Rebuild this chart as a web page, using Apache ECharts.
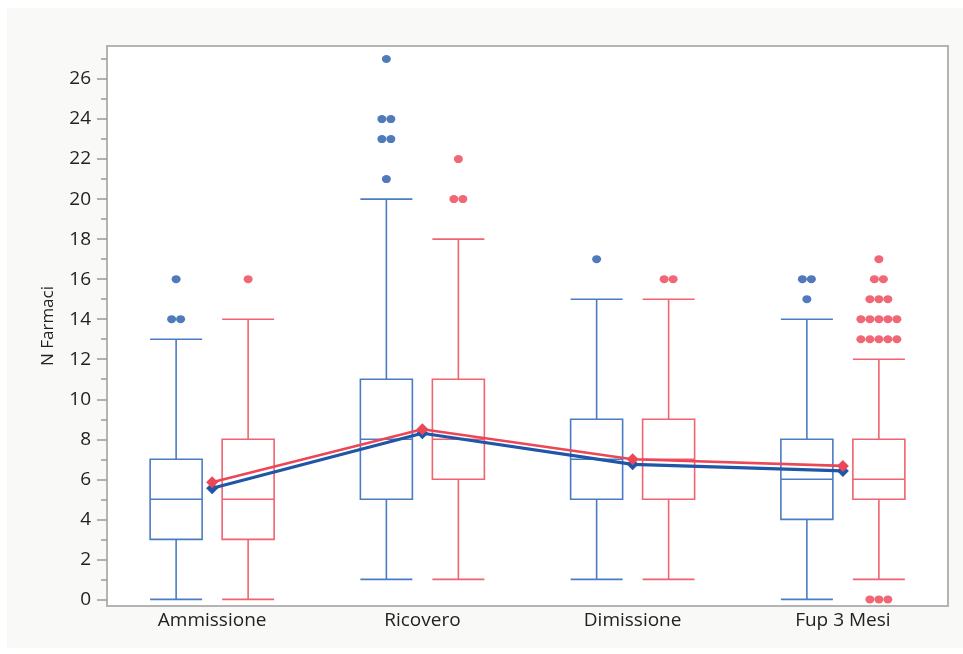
<!DOCTYPE html>
<html>
<head>
<meta charset="utf-8">
<script src="https://cdn.jsdelivr.net/npm/echarts@6/dist/echarts.min.js"></script>
<style>
  html, body { margin: 0; padding: 0; background: #fff; }
  #chart { width: 963px; height: 654px; }
</style>
</head>
<body>
<div id="chart"></div>
<script>
// Categories along the x axis
const categories = ['Ammissione', 'Ricovero', 'Dimissione', 'Fup 3 Mesi'];

// Box summaries per category: [lower whisker, Q1, median, Q3, upper whisker]
const blueBoxes = [[0, 3, 5, 7, 13], [1, 5, 8, 11, 20], [1, 5, 7, 9, 15], [0, 4, 6, 8, 14]];
const redBoxes  = [[0, 3, 5, 8, 14], [1, 6, 8, 11, 18], [1, 5, 7, 9, 15], [1, 5, 6, 8, 12]];

// Outlying observations per category
const blueOutliers = [[14, 14, 16], [21, 23, 23, 24, 24, 27], [17], [15, 16, 16]];
const redOutliers  = [[16], [20, 20, 22], [16, 16],
  [0, 0, 0, 13, 13, 13, 13, 13, 14, 14, 14, 14, 14, 15, 15, 15, 16, 16, 17]];

// Group means
const blueMeans = [5.55, 8.3, 6.75, 6.42];
const redMeans  = [5.85, 8.5, 7.0, 6.67];

// Y axis ticks
const yMajorTicks = [0, 2, 4, 6, 8, 10, 12, 14, 16, 18, 20, 22, 24, 26];
const yMinorTicks = [1, 3, 5, 7, 9, 11, 13, 15, 17, 19, 21, 23, 25, 27];

const BLUE_BOX = '#4a7cc3';
const RED_BOX = '#f0636f';
const BLUE_DOT = '#2559aa';
const RED_DOT = '#ec4253';
const BLUE_MEAN = '#1f56a6';
const RED_MEAN = '#ec4756';

const GRID = { left: 107, top: 46, right: 15, bottom: 48 };
const PLOT_W = 963 - GRID.left - GRID.right;
const UNIT_PER_PX = categories.length / PLOT_W;
const SHIFT = 36 * UNIT_PER_PX;      // box centre offset from category centre
const BOX_W = 52 * UNIT_PER_PX;      // box width
const DOT_STEP = 9 * UNIT_PER_PX;    // spacing of tied outliers

const Y_MIN = -0.33, Y_MAX = 27.65;

function boxRenderer(color) {
  return function (params, api) {
    const x = api.value(0);
    const half = api.size([BOX_W, 0])[0] / 2;
    const cx = api.coord([x, 0])[0];
    const yLo = api.coord([x, api.value(1)])[1];
    const yQ1 = api.coord([x, api.value(2)])[1];
    const yMed = api.coord([x, api.value(3)])[1];
    const yQ3 = api.coord([x, api.value(4)])[1];
    const yHi = api.coord([x, api.value(5)])[1];
    const st = () => ({ stroke: color, lineWidth: 1.6, fill: null });
    const line = (x1, y1, x2, y2) => ({ type: 'line', shape: { x1, y1, x2, y2 }, style: st() });
    return {
      type: 'group',
      children: [
        { type: 'rect', shape: { x: cx - half, y: yQ3, width: half * 2, height: yQ1 - yQ3 }, style: st() },
        line(cx - half, yMed, cx + half, yMed),
        line(cx, yQ3, cx, yHi),
        line(cx, yQ1, cx, yLo),
        line(cx - half, yHi, cx + half, yHi),
        line(cx - half, yLo, cx + half, yLo)
      ]
    };
  };
}

function boxData(boxes, shift) {
  return boxes.map((b, i) => [i + shift].concat(b));
}

function outlierPoints(groups, shift) {
  const pts = [];
  groups.forEach((vals, i) => {
    const counts = new Map();
    vals.forEach(v => counts.set(v, (counts.get(v) || 0) + 1));
    counts.forEach((n, v) => {
      for (let j = 0; j < n; j++) {
        pts.push([i + shift + (j - (n - 1) / 2) * DOT_STEP, v]);
      }
    });
  });
  return pts;
}

const FONT = "'Open Sans', 'Noto Sans', sans-serif";

const chart = echarts.init(document.getElementById('chart'), null, { renderer: 'canvas' });

chart.setOption({
  backgroundColor: '#ffffff',
  animation: false,
  graphic: [{
    type: 'rect',
    z: -10,
    shape: { x: 7, y: 8, width: 956, height: 640 },
    style: { fill: '#f9f9f7' },
    silent: true
  }],
  grid: [
    Object.assign({ show: true, backgroundColor: '#ffffff', borderColor: '#b4b4b4', borderWidth: 2 }, GRID),
    Object.assign({ show: false }, GRID)
  ],
  xAxis: [
    {
      type: 'category',
      gridIndex: 0,
      data: categories,
      boundaryGap: true,
      axisLine: { show: false, onZero: false },
      axisTick: { show: false },
      splitLine: { show: false },
      axisLabel: { fontSize: 19, color: '#222', fontFamily: FONT, margin: 5 }
    },
    { type: 'value', gridIndex: 0, min: -0.5, max: 3.5, show: false, axisLine: { onZero: false } },
    { type: 'value', gridIndex: 1, min: -0.5, max: 3.5, show: false, axisLine: { onZero: false } }
  ],
  yAxis: [
    {
      type: 'value',
      gridIndex: 0,
      min: Y_MIN,
      max: Y_MAX,
      name: 'N Farmaci',
      nameLocation: 'middle',
      nameGap: 50,
      nameTextStyle: { fontSize: 17, color: '#222', fontFamily: FONT },
      axisLine: { show: false, onZero: false },
      splitLine: { show: false },
      axisTick: { show: true, customValues: yMajorTicks, length: 10, lineStyle: { color: '#9a9a9a', width: 1.5 } },
      axisLabel: { customValues: yMajorTicks, fontSize: 19, color: '#222', fontFamily: FONT, margin: 16 }
    },
    {
      type: 'value',
      gridIndex: 1,
      min: Y_MIN,
      max: Y_MAX,
      axisLine: { show: false, onZero: false },
      splitLine: { show: false },
      axisLabel: { show: false },
      axisTick: { show: true, customValues: yMinorTicks, length: 6, lineStyle: { color: '#9a9a9a', width: 1.5 } }
    }
  ],
  series: [
    {
      type: 'custom',
      xAxisIndex: 1, yAxisIndex: 0,
      renderItem: boxRenderer(BLUE_BOX),
      encode: { x: 0, y: [1, 2, 3, 4, 5] },
      data: boxData(blueBoxes, -SHIFT),
      z: 2
    },
    {
      type: 'custom',
      xAxisIndex: 1, yAxisIndex: 0,
      renderItem: boxRenderer(RED_BOX),
      encode: { x: 0, y: [1, 2, 3, 4, 5] },
      data: boxData(redBoxes, SHIFT),
      z: 2
    },
    {
      type: 'scatter',
      xAxisIndex: 1, yAxisIndex: 0,
      symbol: 'circle',
      symbolSize: [9, 8],
      itemStyle: { color: BLUE_DOT },
      data: outlierPoints(blueOutliers, -SHIFT),
      z: 3
    },
    {
      type: 'scatter',
      xAxisIndex: 1, yAxisIndex: 0,
      symbol: 'circle',
      symbolSize: [9, 8],
      itemStyle: { color: RED_DOT },
      data: outlierPoints(redOutliers, SHIFT),
      z: 3
    },
    {
      type: 'line',
      xAxisIndex: 1, yAxisIndex: 0,
      data: blueMeans.map((m, i) => [i, m]),
      symbol: 'diamond',
      symbolSize: 12,
      showAllSymbol: true,
      lineStyle: { color: BLUE_MEAN, width: 3.2 },
      itemStyle: { color: BLUE_MEAN },
      z: 4
    },
    {
      type: 'line',
      xAxisIndex: 1, yAxisIndex: 0,
      data: redMeans.map((m, i) => [i, m]),
      symbol: 'diamond',
      symbolSize: 12,
      showAllSymbol: true,
      lineStyle: { color: RED_MEAN, width: 2.6 },
      itemStyle: { color: RED_MEAN },
      z: 5
    }
  ]
});
</script>
</body>
</html>
